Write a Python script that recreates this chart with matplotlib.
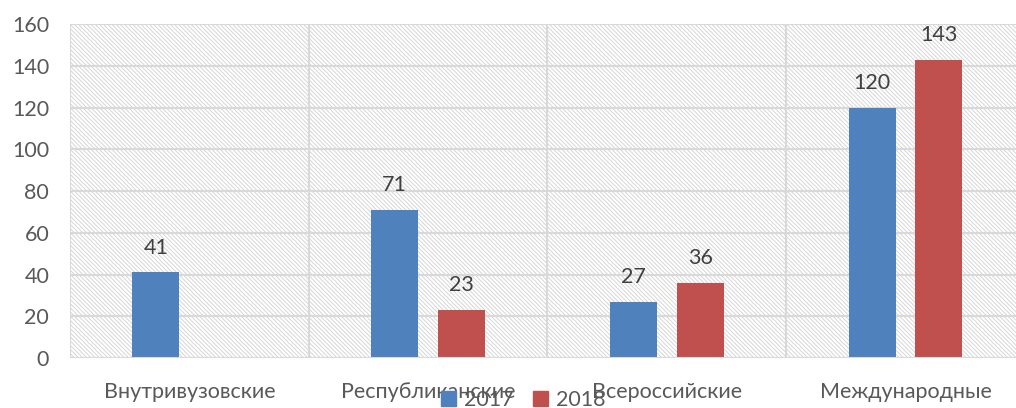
import matplotlib.pyplot as plt
import numpy as np
from matplotlib.patches import Rectangle

categories = ['Внутривузовские', 'Республиканские', 'Всероссийские', 'Международные']
years = ['2017', '2018']
vals_2017 = [41, 71, 27, 120]
vals_2018 = [None, 23, 36, 143]

plt.rcParams['font.family'] = ['Lato', 'DejaVu Sans']
plt.rcParams['hatch.linewidth'] = 0.7
grey = '#595959'
grid_c = '#d9d9d9'

fig = plt.figure(figsize=(10.16, 4.08), dpi=100)
ax = fig.add_axes([0.0689, 0.1225, 0.9398, 0.8186])

x = np.arange(len(categories))
w = 0.197
off = 0.14

# hatched background
bg = Rectangle((0, 0), 1, 1, transform=ax.transAxes, facecolor='white',
               edgecolor='#d6d6d6', hatch='\\' * 8, linewidth=0, zorder=0)
ax.add_patch(bg)

for i, v in enumerate(vals_2017):
    ax.bar(x[i] - off, v, w, color='#4F81BD', zorder=3)
    ax.text(x[i] - off, v + 7, str(v), ha='center', va='bottom', fontsize=15.5, color='#404040')
for i, v in enumerate(vals_2018):
    if v is None:
        continue
    ax.bar(x[i] + off, v, w, color='#C0504D', zorder=3)
    ax.text(x[i] + off, v + 7, str(v), ha='center', va='bottom', fontsize=15.5, color='#404040')

ax.set_xlim(-0.5, len(categories) - 0.5)
ax.set_ylim(0, 160)
ax.set_yticks(range(0, 161, 20))
ax.set_xticks(x)
ax.set_xticklabels(categories)
ax.tick_params(axis='both', length=0, labelsize=15.5, labelcolor=grey)
ax.tick_params(axis='y', pad=15)
ax.tick_params(axis='x', pad=17)

for y in range(20, 161, 20):
    ax.axhline(y, color=grid_c, lw=1.5, zorder=1)
for b in np.arange(-0.5, len(categories), 1):
    ax.axvline(b, color=grid_c, lw=1.5, zorder=1)
for s in ax.spines.values():
    s.set_visible(False)
ax.axhline(0, color=grid_c, lw=1.5, zorder=4)

handles = [Rectangle((0, 0), 1, 1, color='#4F81BD'), Rectangle((0, 0), 1, 1, color='#C0504D')]
fig.legend(handles, years, loc='lower center', bbox_to_anchor=(0.515, -0.052), ncol=2,
           frameon=False, fontsize=15.5, labelcolor=grey, handlelength=0.7, handleheight=0.7,
           columnspacing=0.9, handletextpad=0.35)

fig.savefig('out.png', dpi=100)
